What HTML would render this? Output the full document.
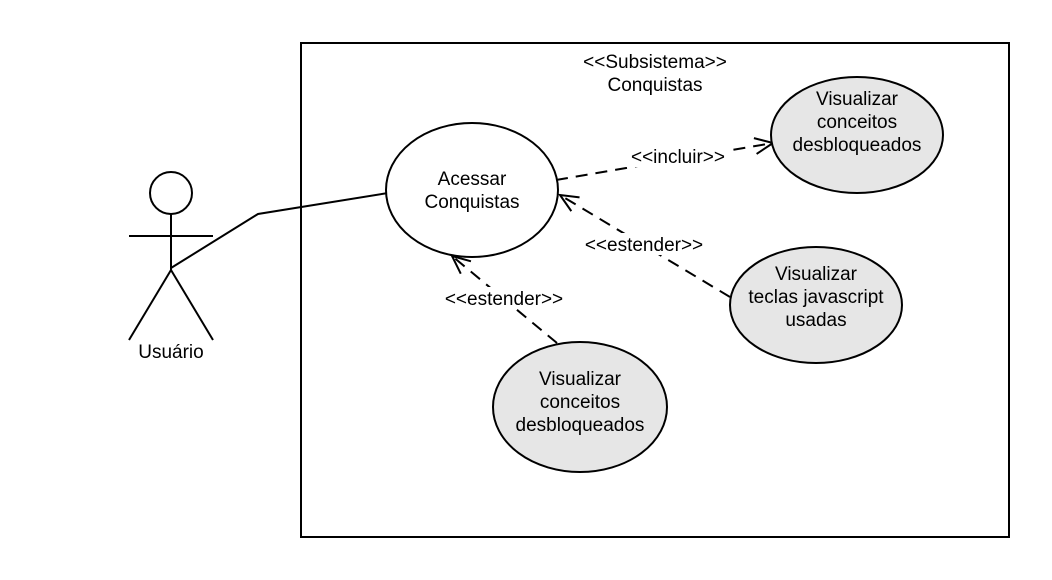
<!DOCTYPE html>
<html><head><meta charset="utf-8"><style>
html,body{margin:0;padding:0;background:#fff;}
svg{display:block;font-family:"Liberation Sans",sans-serif;}
text{font-size:19px;fill:#000;}
</style></head><body>
<svg width="1052" height="580" viewBox="0 0 1052 580">
<defs>
<marker id="arr" markerWidth="22" markerHeight="22" refX="20" refY="11" orient="auto" markerUnits="userSpaceOnUse">
<path d="M2,3 L20,11 L2,19" fill="none" stroke="#000" stroke-width="2"/>
</marker>
</defs>
<rect x="301" y="43" width="708" height="494" fill="none" stroke="#000" stroke-width="2"/>
<text x="655" y="68" text-anchor="middle">&lt;&lt;Subsistema&gt;&gt;</text>
<text x="655" y="91" text-anchor="middle">Conquistas</text>

<g stroke="#000" stroke-width="2" fill="none">
<circle cx="171" cy="193" r="21" fill="#fff"/>
<line x1="171" y1="214" x2="171" y2="270"/>
<line x1="129" y1="236" x2="213" y2="236"/>
<line x1="171" y1="270" x2="129" y2="340"/>
<line x1="171" y1="270" x2="213" y2="340"/>
</g>
<text x="171" y="358" text-anchor="middle">Usuário</text>
<polyline points="171,268 258,214 388,193" fill="none" stroke="#000" stroke-width="2"/>

<line x1="556" y1="180" x2="773" y2="143" stroke="#000" stroke-width="2" stroke-dasharray="12,8" marker-end="url(#arr)"/>
<line x1="730" y1="297" x2="560" y2="195" stroke="#000" stroke-width="2" stroke-dasharray="12,8" marker-end="url(#arr)"/>
<line x1="557" y1="343" x2="452" y2="256" stroke="#000" stroke-width="2" stroke-dasharray="12,8" marker-end="url(#arr)"/>

<rect x="626" y="145" width="104" height="22" fill="#fff"/>
<text x="678" y="163" text-anchor="middle">&lt;&lt;incluir&gt;&gt;</text>
<rect x="578" y="233" width="132" height="22" fill="#fff"/>
<text x="644" y="251" text-anchor="middle">&lt;&lt;estender&gt;&gt;</text>
<rect x="438" y="287" width="132" height="22" fill="#fff"/>
<text x="504" y="305" text-anchor="middle">&lt;&lt;estender&gt;&gt;</text>

<g>
<ellipse cx="472" cy="190" rx="86" ry="67" fill="#fff" stroke="#000" stroke-width="2"/>
<text x="472" y="185" text-anchor="middle">Acessar</text>
<text x="472" y="208" text-anchor="middle">Conquistas</text>
</g>
<g>
<ellipse cx="857" cy="135" rx="86" ry="58" fill="#e6e6e6" stroke="#000" stroke-width="2"/>
<text x="857" y="105" text-anchor="middle">Visualizar</text>
<text x="857" y="128" text-anchor="middle">conceitos</text>
<text x="857" y="151" text-anchor="middle">desbloqueados</text>
</g>
<g>
<ellipse cx="816" cy="305" rx="86" ry="58" fill="#e6e6e6" stroke="#000" stroke-width="2"/>
<text x="816" y="280" text-anchor="middle">Visualizar</text>
<text x="816" y="303" text-anchor="middle">teclas javascript</text>
<text x="816" y="326" text-anchor="middle">usadas</text>
</g>
<g>
<ellipse cx="580" cy="407" rx="87" ry="65" fill="#e6e6e6" stroke="#000" stroke-width="2"/>
<text x="580" y="385" text-anchor="middle">Visualizar</text>
<text x="580" y="408" text-anchor="middle">conceitos</text>
<text x="580" y="431" text-anchor="middle">desbloqueados</text>
</g>
</svg>
</body></html>
